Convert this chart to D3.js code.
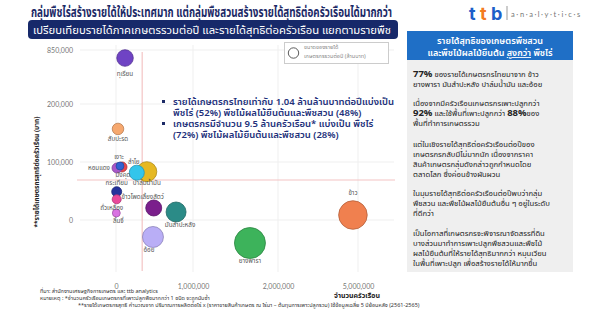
<!DOCTYPE html>
<html>
<head>
<meta charset="utf-8">
<script src="https://cdn.jsdelivr.net/npm/d3@7"></script>
<style>
  body { margin: 0; background: #fff; }
  svg { display: block; font-family: "Noto Sans Thai", "Noto Sans", sans-serif; }
</style>
</head>
<body>
<div id="svg-container"></div>
<script>
// Chart data

var crops = ["ข้าว", "ยางพารา", "มันสำปะหลัง", "ปาล์มน้ำมัน", "อ้อย", "ข้าวโพดเลี้ยงสัตว์", "ทุเรียน",
    "สับปะรด", "ลำไย", "เงาะ", "มังคุด", "หอมแดง", "กระเทียม", "ถั่วเหลือง", "ลิ้นจี่"];
var households = [4810000, 1670000, 780000, 400000, 480000, 490000, 117000,
    26000, 270000, 52000, 78000, 13000, 9000, 9000, 4000];
var netIncome = [8600, -39700, 13800, 83300, -29300, 20700, 753700,
    157000, 81600, 93100, 91400, 89700, 48800, 35700, 12000];
var totalIncome = [221000, 260000, 108000, 108000, 119000, 69000, 74000,
    36000, 61000, 17000, 27000, 27000, 27000, 22000, 17000]; // ล้านบาท

var xTicks = [0, 1000000, 2000000, 5000000];
var yTicks = [0, 100000, 200000, 850000];
var avgHouseholds = 340000;
var avgNetIncome = 69000;

// Styles for each crop (fill, label placement and nudge)

var fills = ["#f0804f", "#3db35b", "#2b8b87", "#e6b822", "#b9aef6", "#7b1f8c", "#6f43c4",
    "#f6a86f", "#33c5eb", "#3262d2", "#e8464c", "#a957c9", "#25329c", "#e9499b", "#d972e2"];
var labelAt = ["top", "bottom", "bottom", "bottom", "bottom", "top", "bottom",
    "bottom", "top", "top", "bottom", "left", "top", "bottom", "bottom"];
var labelDx = [0, 0, 4, 0, -4, -11, 0, 0, -3, -1, 1, 0, 0, -5, 2];
var labelDy = [-2.5, -1.5, -1, -2.5, -1.5, 2, 3.5, 0, 1.8, 0, -1, 0, 1.3, 0, 0];

var width = 600,
    height = 314;

var navy = "#1c2a66";

// Create the SVG Container.

var svg = d3.select("#svg-container")
    .append("svg")
    .attr("width", width)
    .attr("height", height);

// Title, subtitle banner and logo

svg.append("text")
    .attr("x", 31)
    .attr("y", 17)
    .attr("font-size", 13.5)
    .attr("font-weight", "bold")
    .attr("fill", navy)
    .attr("textLength", 361)
    .attr("lengthAdjust", "spacingAndGlyphs")
    .text("กลุ่มพืชไร่สร้างรายได้ให้ประเทศมาก แต่กลุ่มพืชสวนสร้างรายได้สุทธิต่อครัวเรือนได้มากกว่า");

svg.append("rect")
    .attr("x", 28)
    .attr("y", 20)
    .attr("width", 370)
    .attr("height", 19)
    .attr("rx", 4)
    .attr("fill", "#17296a");

svg.append("text")
    .attr("x", 33)
    .attr("y", 34)
    .attr("font-size", 11)
    .attr("fill", "#fff")
    .attr("textLength", 358)
    .attr("lengthAdjust", "spacingAndGlyphs")
    .text("เปรียบเทียบรายได้ภาคเกษตรรวมต่อปี และรายได้สุทธิต่อครัวเรือน แยกตามรายพืช");

// Logo letters, each as its own text

var logoLetters = [["t", "#1d5fc9", 469], ["t", "#f47b20", 480], ["b", "#1d5fc9", 491]];

svg.selectAll("text.logo")
    .data(logoLetters)
    .enter().append("text")
    .attr("class", "logo")
    .attr("x", function(d) { return d[2] })
    .attr("y", 20)
    .attr("font-size", 18)
    .attr("font-weight", "bold")
    .attr("font-family", "Inter, sans-serif")
    .attr("fill", function(d) { return d[1] })
    .text(function(d) { return d[0] });

svg.append("line")
    .attr("x1", 507).attr("x2", 507)
    .attr("y1", 6).attr("y2", 20)
    .attr("stroke", "#999");

svg.append("text")
    .attr("x", 511)
    .attr("y", 17)
    .attr("font-size", 7.5)
    .attr("letter-spacing", 1.6)
    .attr("fill", "#777")
    .attr("font-family", "Lato, sans-serif")
    .text("a·n·a·l·y·t·i·c·s");

// Scales (the axes are broken, so piecewise linear)

var x = d3.scaleLinear()
    .domain(xTicks)
    .range([116, 193, 278, 358]);

var y = d3.scaleLinear()
    .domain(yTicks)
    .range([220, 162, 104, 50]);

var r = d3.scaleSqrt()
    .domain([0, d3.max(totalIncome)])
    .range([0, 15.5]);

var plot = { left: 80, right: 394, top: 45, bottom: 272 };

// Gridlines

var grid = svg.append("g");

grid.selectAll("line.gx")
    .data(xTicks)
    .enter().append("line")
    .attr("class", "gx")
    .attr("x1", function(d) { return x(d) })
    .attr("x2", function(d) { return x(d) })
    .attr("y1", plot.top)
    .attr("y2", plot.bottom)
    .attr("stroke", "#efefef");

grid.selectAll("line.gy")
    .data(yTicks)
    .enter().append("line")
    .attr("class", "gy")
    .attr("x1", plot.left)
    .attr("x2", plot.right)
    .attr("y1", function(d) { return y(d) })
    .attr("y2", function(d) { return y(d) })
    .attr("stroke", "#efefef");

// Average reference lines

svg.append("line")
    .attr("x1", x(avgHouseholds)).attr("x2", x(avgHouseholds))
    .attr("y1", 52).attr("y2", 271)
    .attr("stroke", "#f4c4c4")
    .attr("stroke-width", 1.2);

svg.append("line")
    .attr("x1", 77).attr("x2", 395)
    .attr("y1", y(avgNetIncome)).attr("y2", y(avgNetIncome))
    .attr("stroke", "#f4c4c4")
    .attr("stroke-width", 1.2);

// Axes

svg.append("g")
    .attr("transform", "translate(76,0)")
    .call(d3.axisLeft(y).tickValues(yTicks).tickSize(0).tickPadding(3).tickFormat(d3.format(",")));

svg.append("g")
    .attr("transform", "translate(0,282)")
    .call(d3.axisBottom(x).tickValues(xTicks).tickSize(0).tickPadding(2).tickFormat(d3.format(",")));

svg.selectAll(".domain").remove();
svg.selectAll(".tick text")
    .attr("font-size", 7)
    .attr("fill", "#777")
    .attr("font-family", "Lato, sans-serif");

svg.append("text")
    .attr("x", 357)
    .attr("y", 298)
    .attr("text-anchor", "middle")
    .attr("font-size", 7)
    .attr("font-weight", "bold")
    .attr("fill", "#222")
    .text("จำนวนครัวเรือน");

svg.append("text")
    .attr("transform", "translate(39,172) rotate(-90)")
    .attr("text-anchor", "middle")
    .attr("font-size", 6.5)
    .attr("font-weight", "bold")
    .attr("fill", "#222")
    .text("**รายได้เกษตรกรสุทธิต่อครัวเรือน (บาท)");

// Bubbles, largest drawn first

var points = crops.map(function(c, i) {
    return { name: c, hh: households[i], income: netIncome[i], total: totalIncome[i],
        fill: fills[i], at: labelAt[i], dx: labelDx[i], dy: labelDy[i] };
});
var order = points.slice().sort(function(a, b) { return b.total - a.total });

svg.append("g").selectAll("circle")
    .data(order)
    .enter().append("circle")
    .attr("cx", function(d) { return x(d.hh) })
    .attr("cy", function(d) { return y(d.income) })
    .attr("r", function(d) { return r(d.total) })
    .attr("fill", function(d) { return d.fill })
    .attr("stroke", function(d) { return d3.color(d.fill).darker(0.8) })
    .attr("stroke-width", 0.8);

svg.append("g").selectAll("text")
    .data(points)
    .enter().append("text")
    .attr("font-size", 6.3)
    .attr("fill", "#555")
    .attr("text-anchor", function(d) { return d.at == "left" ? "end" : "middle" })
    .attr("x", function(d) {
        var cx = x(d.hh) + d.dx;
        return d.at == "left" ? cx - r(d.total) - 2 : cx;
    })
    .attr("y", function(d) {
        var cy = y(d.income), rr = r(d.total);
        if (d.at == "top") return cy - rr - 3 + d.dy;
        if (d.at == "bottom") return cy + rr + 6 + d.dy;
        return cy + 2.5 + d.dy;
    })
    .text(function(d) { return d.name });

// Legend box

svg.append("rect")
    .attr("x", 284.5).attr("y", 42.5)
    .attr("width", 104).attr("height", 21)
    .attr("fill", "#fff")
    .attr("stroke", "#ccc");

svg.append("circle")
    .attr("cx", 293.5).attr("cy", 53)
    .attr("r", 5.2)
    .attr("fill", "none")
    .attr("stroke", "#333")
    .attr("stroke-width", 0.8);

svg.append("text")
    .attr("x", 304).attr("y", 49)
    .attr("font-size", 5.5)
    .attr("fill", "#888")
    .text("ขนาดของรายได้");

svg.append("text")
    .attr("x", 304).attr("y", 57.5)
    .attr("font-size", 5.5)
    .attr("fill", "#888")
    .text("เกษตรกรรวมต่อปี (ล้านบาท)");

// Bullet notes in the plot

var bullets = [
    ["รายได้เกษตรกรไทยเท่ากับ 1.04 ล้านล้านบาทต่อปีแบ่งเป็น", "พืชไร่ (52%) พืชไม้ผลไม้ยืนต้นและพืชสวน (48%)"],
    ["เกษตรกรมีจำนวน 9.5 ล้านครัวเรือน* แบ่งเป็น พืชไร่", "(72%) พืชไม้ผลไม้ยืนต้นและพืชสวน (28%)"]
];

bullets.forEach(function(b, i) {
    var top = 105 + i * 22;
    svg.append("rect")
        .attr("x", 162).attr("y", top - 5)
        .attr("width", 3).attr("height", 3)
        .attr("fill", navy);
    b.forEach(function(line, j) {
        svg.append("text")
            .attr("x", 173).attr("y", top + j * 10.5)
            .attr("font-size", 9.5)
            .attr("font-weight", 600)
            .attr("fill", "#22307a")
            .text(line);
    });
});

// Right side panel

svg.append("rect")
    .attr("x", 407).attr("y", 60)
    .attr("width", 166).attr("height", 212)
    .attr("fill", "#efefef");

svg.append("rect")
    .attr("x", 407).attr("y", 31)
    .attr("width", 166).attr("height", 29)
    .attr("fill", "#1f6fc6");

svg.append("text")
    .attr("x", 490).attr("y", 44)
    .attr("text-anchor", "middle")
    .attr("font-size", 9)
    .attr("font-weight", 600)
    .attr("fill", "#fff")
    .text("รายได้สุทธิของเกษตรพืชสวน");

var head2 = svg.append("text")
    .attr("x", 490).attr("y", 56)
    .attr("text-anchor", "middle")
    .attr("font-size", 9)
    .attr("font-weight", 600)
    .attr("fill", "#fff");
head2.append("tspan").text("และพืชไม้ผลไม้ยืนต้น ");
head2.append("tspan").attr("text-decoration", "underline").text("สูงกว่า");
head2.append("tspan").text(" พืชไร่");

// Panel paragraphs: each line is a list of [text, bold]

var panel = [
    [[["77%", true], [" ของรายได้เกษตรกรไทยมาจาก ข้าว", false]],
     [["ยางพารา มันสำปะหลัง ปาล์มน้ำมัน และอ้อย", false]]],
    [[["เนื่องจากมีครัวเรือนเกษตรกรเพาะปลูกกว่า", false]],
     [["92%", true], [" และใช้พื้นที่เพาะปลูกกว่า ", false], ["88%", true], ["ของ", false]],
     [["พื้นที่ทำการเกษตรรวม", false]]],
    [[["แต่ในเชิงรายได้สุทธิต่อครัวเรือนต่อปีของ", false]],
     [["เกษตรกรกลับมีไม่มากนัก เนื่องจากราคา", false]],
     [["สินค้าเกษตรกลุ่มดังกล่าวถูกกำหนดโดย", false]],
     [["ตลาดโลก ซึ่งค่อนข้างผันผวน", false]]],
    [[["ในมุมรายได้สุทธิต่อครัวเรือนต่อปีพบว่ากลุ่ม", false]],
     [["พืชสวน และพืชไม้ผลไม้ยืนต้นอื่น ๆ อยู่ในระดับ", false]],
     [["ที่ดีกว่า", false]]],
    [[["เป็นโอกาสที่เกษตรกรจะพิจารณาจัดสรรที่ดิน", false]],
     [["บางส่วนมาทำการเพาะปลูกพืชสวนและพืชไม้", false]],
     [["ผลไม้ยืนต้นที่ให้รายได้สุทธิมากกว่า หมุนเวียน", false]],
     [["ในพื้นที่เพาะปลูก เพื่อสร้างรายได้ให้มากขึ้น", false]]]
];
var paraTop = [77, 106, 147, 196, 236];

panel.forEach(function(para, p) {
    para.forEach(function(line, j) {
        var t = svg.append("text")
            .attr("x", 413).attr("y", paraTop[p] + j * 10)
            .attr("font-size", 7.7)
            .attr("fill", "#222");
        line.forEach(function(part) {
            t.append("tspan")
                .attr("font-weight", part[1] ? "bold" : "normal")
                .attr("font-size", part[1] ? 9.5 : 7.7)
                .text(part[0]);
        });
    });
});

// Footer notes

var notes = [
    [40, 293, "ที่มา: สำนักงานเศรษฐกิจการเกษตร และ ttb analytics"],
    [40, 300, "หมายเหตุ : *จำนวนครัวเรือนเกษตรกรที่เพาะปลูกพืชมากกว่า 1 ชนิด จะถูกนับซ้ำ"],
    [78, 307, "**รายได้เกษตรกรสุทธิ คำนวณจาก ปริมาณการผลิตต่อไร่ x (ราคาขายสินค้าเกษตร ณ ไร่นา – ต้นทุนการเพาะปลูกรวม) ใช้ข้อมูลเฉลี่ย 5 ปีย้อนหลัง (2561-2565)"]
];

svg.selectAll("text.note")
    .data(notes)
    .enter().append("text")
    .attr("class", "note")
    .attr("x", function(d) { return d[0] })
    .attr("y", function(d) { return d[1] })
    .attr("font-size", 5.5)
    .attr("fill", "#333")
    .text(function(d) { return d[2] });
</script>
</body>
</html>
